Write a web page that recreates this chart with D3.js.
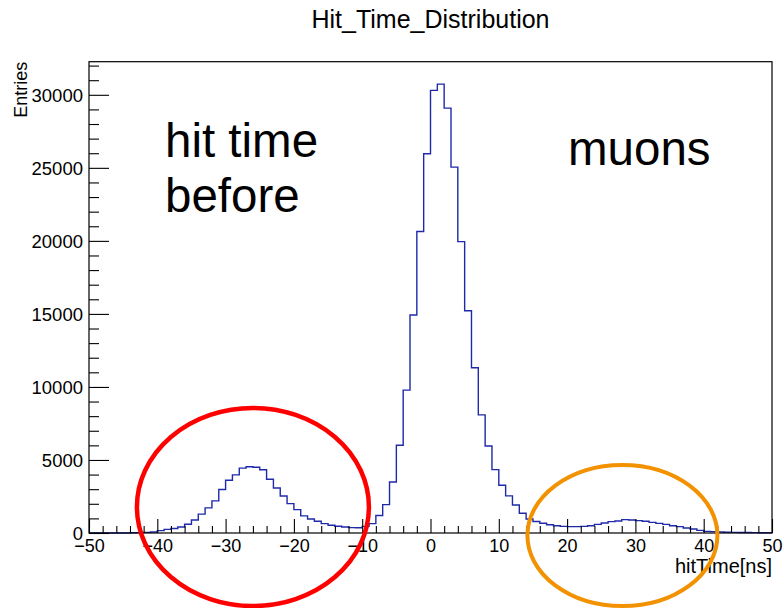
<!DOCTYPE html>
<html>
<head>
<meta charset="utf-8">
<script src="https://cdn.jsdelivr.net/npm/d3@7"></script>
<style>
  body { margin: 0; background: #fff; }
  svg { display: block; }
  text { font-family: "Liberation Sans", Arial, Helvetica, sans-serif; fill: #000; }
</style>
</head>
<body>
<svg id="chart" width="784" height="608"></svg>
<script>
// Histogram of hit times, 1 ns bins from -50 ns to 50 ns
const binLowEdges = d3.range(-50, 50, 1);
const counts = [
  0, 0, 0, 0, 0, 0, 20, 25, 45, 70,
  160, 250, 310, 410, 600, 890, 1290, 1720, 2200, 2980,
  3610, 3980, 4440, 4540, 4500, 4330, 3680, 3080, 2530, 2010,
  1600, 1170, 960, 800, 640, 530, 460, 410, 370, 360,
  457, 640, 1200, 1940, 3490, 6010, 9780, 14920, 20640, 25960,
  30300, 30730, 29090, 25050, 19950, 15220, 11310, 8090, 5960, 4340,
  3270, 2540, 1920, 1350, 960, 790, 670, 560, 500, 456,
  434, 434, 456, 500, 590, 685, 776, 820, 913, 890,
  845, 800, 730, 660, 590, 500, 434, 342, 274, 183,
  114, 91, 70, 55, 45, 35, 30, 25, 20, 15
];
const binWidth = 1;

const xMajorTicks = [-50, -40, -30, -20, -10, 0, 10, 20, 30, 40, 50];
const yMajorTicks = [0, 5000, 10000, 15000, 20000, 25000, 30000];

const titleText = "Hit_Time_Distribution";
const xTitle = "hitTime[ns]";
const yTitle = "Entries";
const notes = [
  { lines: ["hit time", "before"], x: 165, y: 157 },
  { lines: ["muons"], x: 568, y: 165 }
];

const svg = d3.select("#chart");
const frame = { left: 89, right: 772, top: 61.7, bottom: 533 };

const x = d3.scaleLinear().domain([-50, 50]).range([frame.left, frame.right]);
const yMax = 1.05 * d3.max(counts);
const y = d3.scaleLinear().domain([0, yMax]).range([frame.bottom, frame.top]);

// Title
svg.append("text")
  .attr("x", (frame.left + frame.right) / 2)
  .attr("y", 28)
  .attr("text-anchor", "middle")
  .style("font-size", "25px")
  .text(titleText);

// Histogram outline as a stepped path
const bins = binLowEdges.map((lo, i) => ({ lo, hi: lo + binWidth, v: counts[i] }));
const pts = [];
bins.forEach(b => { pts.push([b.lo, b.v]); pts.push([b.hi, b.v]); });
const line = d3.line().x(d => x(d[0])).y(d => y(d[1]));
svg.append("path")
  .attr("d", line(pts))
  .attr("fill", "none")
  .attr("stroke", "#1e2aa8")
  .attr("stroke-width", 1.4);

// Frame
svg.append("rect")
  .attr("x", frame.left).attr("y", frame.top)
  .attr("width", frame.right - frame.left)
  .attr("height", frame.bottom - frame.top)
  .attr("fill", "none").attr("stroke", "#000").attr("stroke-width", 1.2);

// X axis: major and minor ticks pointing inward
const xMinor = d3.range(-50, 51, 2).filter(v => v % 10 !== 0);
const gxMinor = svg.append("g").attr("transform", `translate(0,${frame.bottom})`)
  .call(d3.axisBottom(x).tickValues(xMinor).tickSizeInner(-7).tickSizeOuter(0).tickFormat(""));
const gx = svg.append("g").attr("transform", `translate(0,${frame.bottom})`)
  .call(d3.axisBottom(x).tickValues(xMajorTicks).tickSizeInner(-14).tickSizeOuter(0).tickPadding(6.5));
gx.selectAll("text").style("font-size", "18px");

// Y axis
const yMinor = d3.range(0, yMax, 1000).filter(v => v % 5000 !== 0);
const gyMinor = svg.append("g").attr("transform", `translate(${frame.left},0)`)
  .call(d3.axisLeft(y).tickValues(yMinor).tickSizeInner(-10).tickSizeOuter(0).tickFormat(""));
const gy = svg.append("g").attr("transform", `translate(${frame.left},0)`)
  .call(d3.axisLeft(y).tickValues(yMajorTicks).tickSizeInner(-20).tickSizeOuter(0)
        .tickPadding(6).tickFormat(d3.format("d")));
gy.selectAll("text").style("font-size", "18.5px").attr("dy", "0.37em");

[gx, gxMinor, gy, gyMinor].forEach(g => {
  g.select(".domain").remove();
  g.selectAll(".tick line").attr("stroke", "#000").attr("stroke-width", 1.1);
});

// Axis titles
svg.append("text")
  .attr("x", frame.right).attr("y", 573)
  .attr("text-anchor", "end")
  .style("font-size", "20px")
  .text(xTitle);
svg.append("text")
  .attr("transform", `translate(27,${frame.top}) rotate(-90)`)
  .attr("text-anchor", "end")
  .style("font-size", "18px")
  .text(yTitle);

// Annotations
notes.forEach(n => {
  const t = svg.append("text")
    .attr("x", n.x).attr("y", n.y)
    .style("font-size", "47.5px");
  n.lines.forEach((l, i) => {
    t.append("tspan").attr("x", n.x).attr("dy", i === 0 ? 0 : 55).text(l);
  });
});

// Highlight ellipses around the side peaks
svg.append("ellipse")
  .attr("cx", x(-26)).attr("cy", 507)
  .attr("rx", 116).attr("ry", 99)
  .attr("fill", "none").attr("stroke", "#ff0000").attr("stroke-width", 4.5);
svg.append("ellipse")
  .attr("cx", x(28.1)).attr("cy", 535.5)
  .attr("rx", 95).attr("ry", 70.5)
  .attr("fill", "none").attr("stroke", "#f39200").attr("stroke-width", 4);
</script>
</body>
</html>
